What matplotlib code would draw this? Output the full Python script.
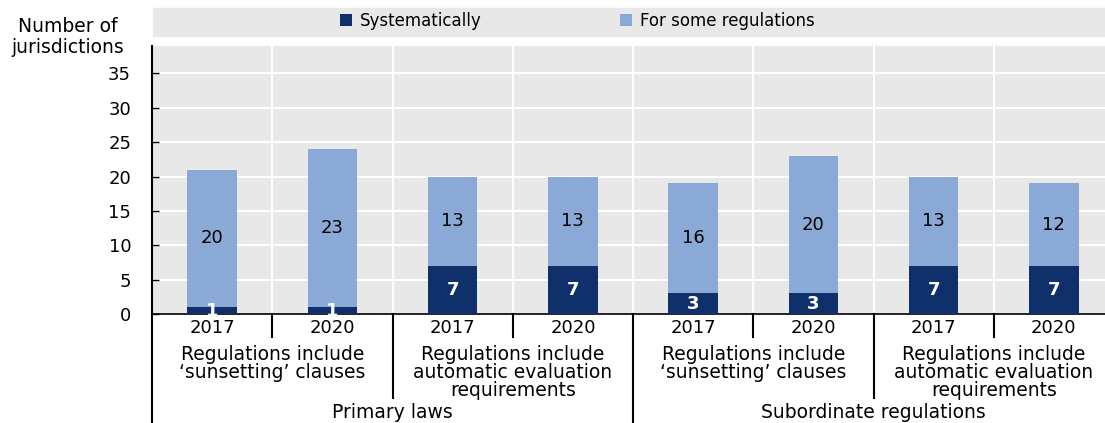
import matplotlib.pyplot as plt
from matplotlib.patches import Rectangle

years = ["2017", "2020", "2017", "2020", "2017", "2020", "2017", "2020"]
categories = ["Regulations include\n\u2018sunsetting\u2019 clauses",
              "Regulations include\nautomatic evaluation\nrequirements",
              "Regulations include\n\u2018sunsetting\u2019 clauses",
              "Regulations include\nautomatic evaluation\nrequirements"]
groups = ["Primary laws", "Subordinate regulations"]
systematically = [1, 1, 7, 7, 3, 3, 7, 7]
some_regulations = [20, 23, 13, 13, 16, 20, 13, 12]

dark = "#10306b"
light = "#8aa9d6"
bg = "#e8e8e8"

plt.rcParams["font.family"] = ["DejaVu Sans"]

fig = plt.figure(figsize=(11.05, 4.23), dpi=100)
# the last category runs past the right edge of the figure
ax = fig.add_axes([152 / 1105, 1 - 314 / 423, 962 / 1105, 268 / 423])
ax.set_facecolor(bg)

x = list(range(len(years)))
b1 = ax.bar(x, systematically, width=0.41, color=dark, zorder=3, label="Systematically")
b2 = ax.bar(x, some_regulations, width=0.41, bottom=systematically, color=light,
            zorder=3, label="For some regulations")

for i in x:
    s = systematically[i]
    f = some_regulations[i]
    ax.text(i, s / 2, str(s), ha="center", va="center", color="white",
            fontsize=13, fontweight="bold", zorder=4)
    ax.text(i, s + f / 2, str(f), ha="center", va="center", color="black",
            fontsize=13, zorder=4)

ax.set_xlim(-0.5, 7.5)
ax.set_ylim(0, 39)
ax.set_yticks(range(0, 40, 5))
ax.tick_params(axis="y", direction="in", length=5, width=1, pad=15, labelsize=13)
ax.set_xticks([])
for v in range(5, 40, 5):
    ax.axhline(v, color="white", lw=1.5, zorder=1)
for v in [0.5, 1.5, 2.5, 3.5, 4.5, 5.5, 6.5]:
    ax.axvline(v, color="white", lw=1.5, zorder=1)

for side in ["top", "right"]:
    ax.spines[side].set_visible(False)
ax.spines["left"].set_linewidth(1.5)
ax.spines["bottom"].set_linewidth(1.2)

# bracket lines below the axis
trans = ax.get_xaxis_transform()
h = 268
for v in [0.5, 2.5, 4.5, 6.5]:
    ax.plot([v, v], [0, -23 / h], color="black", lw=1.5, transform=trans, clip_on=False)
for v in [1.5, 5.5]:
    ax.plot([v, v], [0, -84 / h], color="black", lw=1.5, transform=trans, clip_on=False)
for v in [-0.5, 3.5]:
    ax.plot([v, v], [0, -112 / h], color="black", lw=1.5, transform=trans, clip_on=False)

for i, yr in enumerate(years):
    ax.text(i, -14 / h, yr, ha="center", va="center", fontsize=13, transform=trans)
for j, cat in enumerate(categories):
    ax.text(2 * j + 0.5, -31 / h, cat, ha="center", va="top", fontsize=13.5,
            linespacing=0.95, transform=trans)
for j, grp in enumerate(groups):
    ax.text(4 * j + 1.5, -98 / h, grp, ha="center", va="center", fontsize=13.5,
            transform=trans)

fig.text(68 / 1105, 1 - 37 / 423, "Number of\njurisdictions", ha="center", va="center",
         fontsize=13.5, fontweight="medium", linespacing=1.15)

# legend band
fig.patches.append(Rectangle((153 / 1105, 1 - 36 / 423), 952 / 1105, 28 / 423,
                             transform=fig.transFigure, color=bg, zorder=0))
fig.legend(handles=[b1, b2], loc="center", bbox_to_anchor=(577 / 1105, 1 - 21 / 423),
           ncol=2, frameon=False, handlelength=0.75, handleheight=0.75,
           handletextpad=0.45, columnspacing=8.3, prop={"size": 12})

fig.savefig("out.png", dpi=100)
